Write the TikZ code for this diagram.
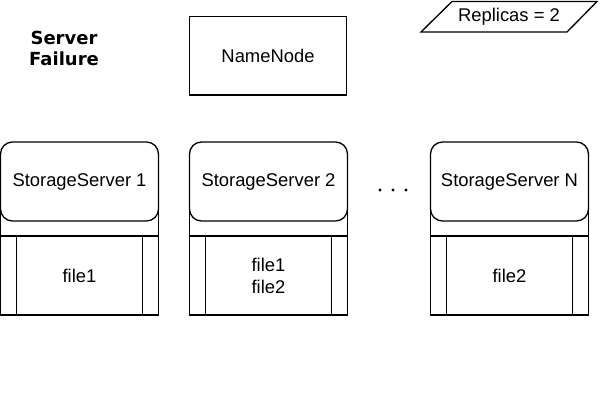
\documentclass[tikz,border=0pt]{standalone}
\usepackage{fontspec}
\setmainfont{Liberation Sans}
\newfontfamily\boldfam{DejaVu Sans}
\begin{document}
\begin{tikzpicture}[x=0.75pt,y=-0.75pt,
  every node/.style={inner sep=0pt,outer sep=0pt},
  lbl/.style={font=\fontsize{13.8pt}{16.5pt}\selectfont,text=black,align=center},
  serverbox/.style={draw=black,line width=1pt,fill=white,rounded corners=9pt,
    minimum width=118.5pt,minimum height=59.25pt,lbl},
  bandbox/.style={draw=black,line width=1pt,fill=white,
    minimum width=118.5pt,minimum height=27pt},
  filebox/.style={draw=black,line width=1pt,fill=white,
    minimum width=118.5pt,minimum height=59.25pt,lbl,
    path picture={\draw[line width=1pt]
      ([xshift=12pt]path picture bounding box.north west) --
      ([xshift=12pt]path picture bounding box.south west)
      ([xshift=-12pt]path picture bounding box.north east) --
      ([xshift=-12pt]path picture bounding box.south east);}},
  namebox/.style={draw=black,line width=1pt,minimum width=118pt,minimum height=59pt,lbl},
  dot/.style={circle,fill=black,minimum size=2.4pt},
]
\useasboundingbox (0,0) rectangle (600,400);

% title
\node[font=\boldfam\bfseries\fontsize{13.5pt}{15.75pt}\selectfont,align=center] (title) at (64,48) {Server\\Failure};

% NameNode
\node[namebox] (nn) at (268,55.5) {NameNode};

% Replicas parallelogram
\node[lbl] (rep) at (509,16.5) {Replicas = 2};
\draw[line width=1pt] (421,32) -- (452,1.5) -- (597,1.5) -- (567,32) -- cycle;

% Storage servers
\foreach \cx/\nm/\lab/\files in {79.5/1/StorageServer 1/file1, 268.5/2/StorageServer 2/{file1\\file2}, 509.5/N/StorageServer N/file2}{
  \node[bandbox] (band\nm) at (\cx,218) {};
  \node[filebox] (fb\nm) at (\cx,275.5) {\files};
  \node[serverbox] (ss\nm) at (\cx,181.5) {\lab};
}

% dots
\node[dot] (d1) at (380,190) {};
\node[dot] (d2) at (393,190) {};
\node[dot] (d3) at (406,190) {};
\end{tikzpicture}
\end{document}
